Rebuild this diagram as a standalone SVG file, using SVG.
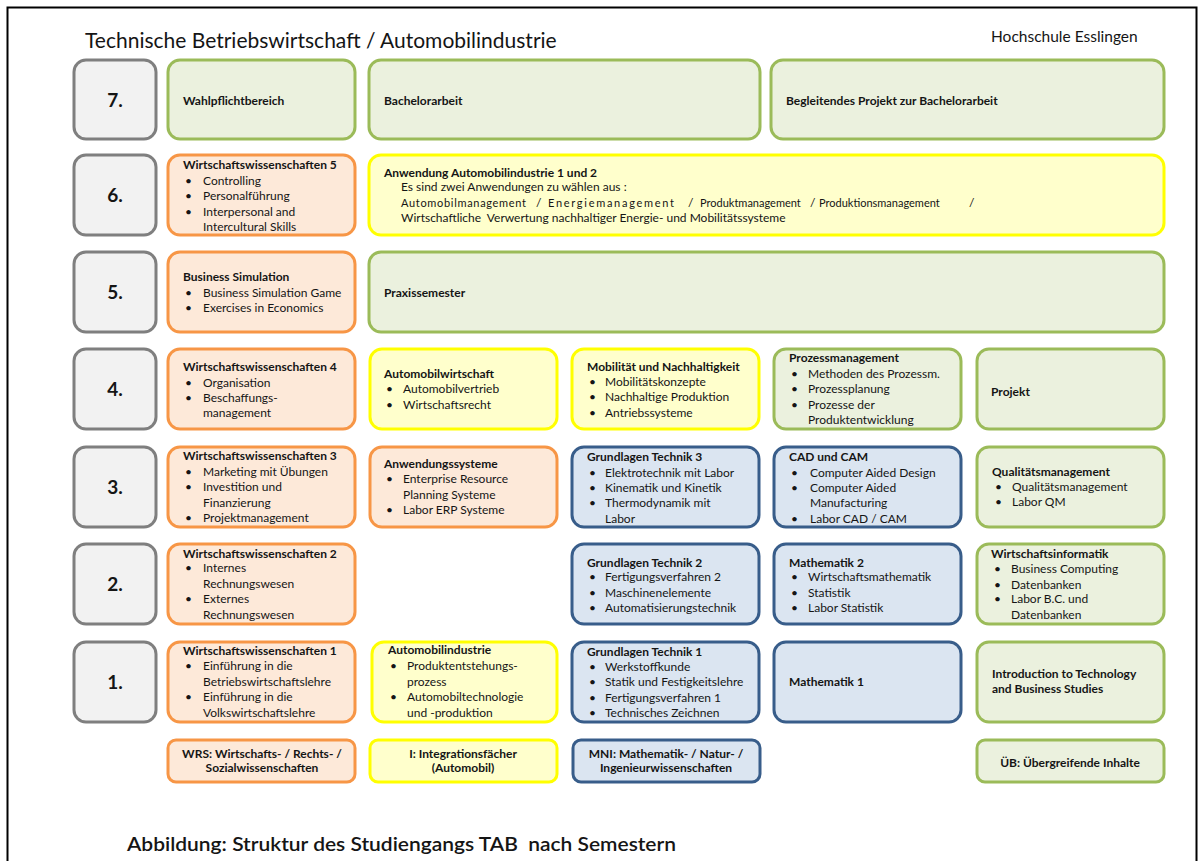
<svg xmlns="http://www.w3.org/2000/svg" width="1203" height="861" viewBox="0 0 1203 861">
<style>
text{font-family:Lato,"Liberation Sans",sans-serif;fill:#151515;font-size:12px}
.t{font-weight:700}
.s{font-size:11px}
.num{font-weight:700;font-size:19px;text-anchor:middle}
.c{text-anchor:middle;font-weight:700;font-size:12px}
.gray{fill:#f2f2f2;stroke:#7f7f7f;stroke-width:3}
.green{fill:#ebf1de;stroke:#9bbb59;stroke-width:3}
.orange{fill:#fde9d9;stroke:#f79646;stroke-width:3}
.yellow{fill:#ffffcc;stroke:#ffff00;stroke-width:3}
.blue{fill:#dbe5f1;stroke:#385d8a;stroke-width:3}
</style>
<rect width="1203" height="861" fill="#ffffff"/>
<rect x="7.5" y="7.5" width="1189" height="880" fill="none" stroke="#000" stroke-width="2"/>
<text x="85" y="48" style="font-size:21px">Technische Betriebswirtschaft / Automobilindustrie</text>
<text x="991" y="42" style="font-size:15.5px">Hochschule Esslingen</text>

<g id="semesters">
<g id="sem7"><rect class="gray" x="74" y="60" width="82" height="79" rx="12"/><text class="num" x="115" y="107">7.</text></g>
<g id="sem6"><rect class="gray" x="74" y="155" width="82" height="80" rx="12"/><text class="num" x="115" y="202">6.</text></g>
<g id="sem5"><rect class="gray" x="74" y="252" width="82" height="80" rx="12"/><text class="num" x="115" y="299">5.</text></g>
<g id="sem4"><rect class="gray" x="74" y="349" width="82" height="80" rx="12"/><text class="num" x="115" y="396">4.</text></g>
<g id="sem3"><rect class="gray" x="74" y="447" width="82" height="80" rx="12"/><text class="num" x="115" y="494">3.</text></g>
<g id="sem2"><rect class="gray" x="74" y="544" width="82" height="80" rx="12"/><text class="num" x="115" y="591">2.</text></g>
<g id="sem1"><rect class="gray" x="74" y="642" width="82" height="80" rx="12"/><text class="num" x="115" y="689">1.</text></g>
</g>

<!-- Row 7 -->
<g id="wahlpflicht"><rect class="green" x="168" y="60" width="187" height="79" rx="12"/><text class="t" x="183" y="105">Wahlpflichtbereich</text></g>
<g id="bachelorarbeit"><rect class="green" x="369" y="60" width="391" height="79" rx="12"/><text class="t" x="384" y="105">Bachelorarbeit</text></g>
<g id="begleitendes"><rect class="green" x="771" y="60" width="393" height="79" rx="12"/><text class="t" x="786" y="105">Begleitendes Projekt zur Bachelorarbeit</text></g>

<!-- Row 6 -->
<g id="ww5"><rect class="orange" x="168" y="155" width="187" height="80" rx="12"/>
<text class="t" x="183" y="169">Wirtschaftswissenschaften 5</text>
<text x="185" y="185">•</text><text x="203" y="185">Controlling</text>
<text x="185" y="200">•</text><text x="203" y="200">Personalführung</text>
<text x="185" y="216">•</text><text x="203" y="216">Interpersonal and</text>
<text x="203" y="231">Intercultural Skills</text></g>
<g id="anwendung"><rect class="yellow" x="369" y="155" width="795" height="80" rx="12"/>
<text class="t" x="384" y="177">Anwendung Automobilindustrie 1 und 2</text>
<text x="401" y="191">Es sind zwei Anwendungen zu wählen aus :</text>
<text class="s" x="401" y="207" textLength="125" lengthAdjust="spacing">Automobilmanagement</text>
<text x="536" y="207">/</text>
<text class="s" x="548" y="207" textLength="126" lengthAdjust="spacing">Energiemanagement</text>
<text x="688" y="207">/</text>
<text class="s" x="700" y="207">Produktmanagement</text>
<text x="810" y="207">/</text>
<text class="s" x="819" y="207">Produktionsmanagement</text>
<text x="969" y="207">/</text>
<text x="401" y="222" xml:space="preserve">Wirtschaftliche  Verwertung nachhaltiger Energie- und Mobilitätssysteme</text></g>

<!-- Row 5 -->
<g id="bizsim"><rect class="orange" x="168" y="252" width="187" height="80" rx="12"/>
<text class="t" x="183" y="281">Business Simulation</text>
<text x="185" y="297">•</text><text x="203" y="297">Business Simulation Game</text>
<text x="185" y="312">•</text><text x="203" y="312">Exercises in Economics</text></g>
<g id="praxis"><rect class="green" x="369" y="252" width="795" height="80" rx="12"/><text class="t" x="384" y="297">Praxissemester</text></g>

<!-- Row 4 -->
<g id="ww4"><rect class="orange" x="168" y="349" width="187" height="80" rx="12"/>
<text class="t" x="183" y="371">Wirtschaftswissenschaften 4</text>
<text x="185" y="387">•</text><text x="203" y="387">Organisation</text>
<text x="185" y="402">•</text><text x="203" y="402">Beschaffungs-</text>
<text x="203" y="417">management</text></g>
<g id="automobilwirtschaft"><rect class="yellow" x="370" y="349" width="187" height="80" rx="12"/>
<text class="t" x="384" y="378">Automobilwirtschaft</text>
<text x="386" y="393">•</text><text x="403" y="393">Automobilvertrieb</text>
<text x="386" y="409">•</text><text x="403" y="409">Wirtschaftsrecht</text></g>
<g id="mobilitaet"><rect class="yellow" x="572" y="349" width="187" height="80" rx="12"/>
<text class="t" x="587" y="371">Mobilität und Nachhaltigkeit</text>
<text x="589" y="386">•</text><text x="605" y="386">Mobilitätskonzepte</text>
<text x="589" y="401">•</text><text x="605" y="401">Nachhaltige Produktion</text>
<text x="589" y="417">•</text><text x="605" y="417">Antriebssysteme</text></g>
<g id="prozessmanagement"><rect class="green" x="774" y="349" width="187" height="80" rx="12"/>
<text class="t" x="789" y="362">Prozessmanagement</text>
<text x="791" y="378">•</text><text x="808" y="378">Methoden des Prozessm.</text>
<text x="791" y="393">•</text><text x="808" y="393">Prozessplanung</text>
<text x="791" y="409">•</text><text x="808" y="409">Prozesse der</text>
<text x="808" y="424">Produktentwicklung</text></g>
<g id="projekt"><rect class="green" x="977" y="349" width="187" height="80" rx="12"/><text class="t" x="991" y="396">Projekt</text></g>

<!-- Row 3 -->
<g id="ww3"><rect class="orange" x="168" y="447" width="187" height="80" rx="12"/>
<text class="t" x="183" y="460">Wirtschaftswissenschaften 3</text>
<text x="185" y="476">•</text><text x="203" y="476">Marketing mit Übungen</text>
<text x="185" y="491">•</text><text x="203" y="491">Investition und</text>
<text x="203" y="507">Finanzierung</text>
<text x="185" y="522">•</text><text x="203" y="522">Projektmanagement</text></g>
<g id="anwendungssysteme"><rect class="orange" x="370" y="447" width="187" height="80" rx="12"/>
<text class="t" x="384" y="468">Anwendungssysteme</text>
<text x="386" y="483">•</text><text x="403" y="483">Enterprise Resource</text>
<text x="403" y="499">Planning Systeme</text>
<text x="386" y="514">•</text><text x="403" y="514">Labor ERP Systeme</text></g>
<g id="gt3"><rect class="blue" x="572" y="447" width="187" height="80" rx="12"/>
<text class="t" x="587" y="461">Grundlagen Technik 3</text>
<text x="589" y="477">•</text><text x="605" y="477">Elektrotechnik mit Labor</text>
<text x="589" y="492">•</text><text x="605" y="492">Kinematik und Kinetik</text>
<text x="589" y="507">•</text><text x="605" y="507">Thermodynamik mit</text>
<text x="605" y="523">Labor</text></g>
<g id="cadcam"><rect class="blue" x="774" y="447" width="187" height="80" rx="12"/>
<text class="t" x="789" y="461">CAD und CAM</text>
<text x="791" y="477">•</text><text x="810" y="477">Computer Aided Design</text>
<text x="791" y="492">•</text><text x="810" y="492">Computer Aided</text>
<text x="810" y="507">Manufacturing</text>
<text x="791" y="523">•</text><text x="810" y="523">Labor CAD / CAM</text></g>
<g id="qm"><rect class="green" x="977" y="447" width="187" height="80" rx="12"/>
<text class="t" x="992" y="476">Qualitätsmanagement</text>
<text x="995" y="491">•</text><text x="1012" y="491">Qualitätsmanagement</text>
<text x="995" y="506">•</text><text x="1012" y="506">Labor QM</text></g>

<!-- Row 2 -->
<g id="ww2"><rect class="orange" x="168" y="544" width="187" height="80" rx="12"/>
<text class="t" x="183" y="558">Wirtschaftswissenschaften 2</text>
<text x="185" y="572">•</text><text x="203" y="572">Internes</text>
<text x="203" y="588">Rechnungswesen</text>
<text x="185" y="603">•</text><text x="203" y="603">Externes</text>
<text x="203" y="619">Rechnungswesen</text></g>
<g id="gt2"><rect class="blue" x="572" y="544" width="187" height="80" rx="12"/>
<text class="t" x="587" y="567">Grundlagen Technik 2</text>
<text x="589" y="581">•</text><text x="605" y="581">Fertigungsverfahren 2</text>
<text x="589" y="597">•</text><text x="605" y="597">Maschinenelemente</text>
<text x="589" y="612">•</text><text x="605" y="612">Automatisierungstechnik</text></g>
<g id="mathe2"><rect class="blue" x="774" y="544" width="187" height="80" rx="12"/>
<text class="t" x="789" y="567">Mathematik 2</text>
<text x="791" y="581">•</text><text x="808" y="581">Wirtschaftsmathematik</text>
<text x="791" y="597">•</text><text x="808" y="597">Statistik</text>
<text x="791" y="612">•</text><text x="808" y="612">Labor Statistik</text></g>
<g id="wi"><rect class="green" x="977" y="544" width="187" height="80" rx="12"/>
<text class="t" x="991" y="558">Wirtschaftsinformatik</text>
<text x="994" y="573">•</text><text x="1011" y="573">Business Computing</text>
<text x="994" y="589">•</text><text x="1011" y="589">Datenbanken</text>
<text x="994" y="603">•</text><text x="1011" y="603">Labor B.C. und</text>
<text x="1011" y="619">Datenbanken</text></g>

<!-- Row 1 -->
<g id="ww1"><rect class="orange" x="168" y="642" width="187" height="80" rx="12"/>
<text class="t" x="183" y="655">Wirtschaftswissenschaften 1</text>
<text x="185" y="670">•</text><text x="203" y="670">Einführung in die</text>
<text x="203" y="686">Betriebswirtschaftslehre</text>
<text x="185" y="701">•</text><text x="203" y="701">Einführung in die</text>
<text x="203" y="717">Volkswirtschaftslehre</text></g>
<g id="automobilindustrie"><rect class="yellow" x="372" y="642" width="185" height="80" rx="12"/>
<text class="t" x="388" y="654">Automobilindustrie</text>
<text x="390" y="670">•</text><text x="407" y="670">Produktentstehungs-</text>
<text x="407" y="686">prozess</text>
<text x="390" y="701">•</text><text x="407" y="701">Automobiltechnologie</text>
<text x="407" y="717">und -produktion</text></g>
<g id="gt1"><rect class="blue" x="572" y="642" width="187" height="80" rx="12"/>
<text class="t" x="587" y="656">Grundlagen Technik 1</text>
<text x="589" y="671">•</text><text x="605" y="671">Werkstoffkunde</text>
<text x="589" y="686">•</text><text x="605" y="686">Statik und Festigkeitslehre</text>
<text x="589" y="702">•</text><text x="605" y="702">Fertigungsverfahren 1</text>
<text x="589" y="717">•</text><text x="605" y="717">Technisches Zeichnen</text></g>
<g id="mathe1"><rect class="blue" x="774" y="642" width="187" height="80" rx="12"/><text class="t" x="789" y="686">Mathematik 1</text></g>
<g id="intro"><rect class="green" x="977" y="642" width="187" height="80" rx="12"/>
<text class="t" x="992" y="678">Introduction to Technology</text>
<text class="t" x="992" y="693">and Business Studies</text></g>

<!-- Legend -->
<g id="legend-wrs"><rect class="orange" x="168" y="740" width="187" height="42" rx="8"/>
<text class="c" x="262" y="758">WRS: Wirtschafts- / Rechts- /</text><text class="c" x="262" y="772">Sozialwissenschaften</text></g>
<g id="legend-i"><rect class="yellow" x="370" y="740" width="187" height="42" rx="8"/>
<text class="c" x="463" y="758">I: Integrationsfächer</text><text class="c" x="463" y="772">(Automobil)</text></g>
<g id="legend-mni"><rect class="blue" x="573" y="740" width="187" height="42" rx="8"/>
<text class="c" x="666" y="758">MNI: Mathematik- / Natur- /</text><text class="c" x="666" y="772">Ingenieurwissenschaften</text></g>
<g id="legend-ueb"><rect class="green" x="977" y="740" width="187" height="42" rx="8"/>
<text class="c" x="1070" y="767">ÜB: Übergreifende Inhalte</text></g>

<g id="connectors"></g>

<text x="127" y="851" style="font-size:19px;font-weight:600" textLength="549" lengthAdjust="spacingAndGlyphs" xml:space="preserve">Abbildung: Struktur des Studiengangs TAB  nach Semestern</text>
</svg>
